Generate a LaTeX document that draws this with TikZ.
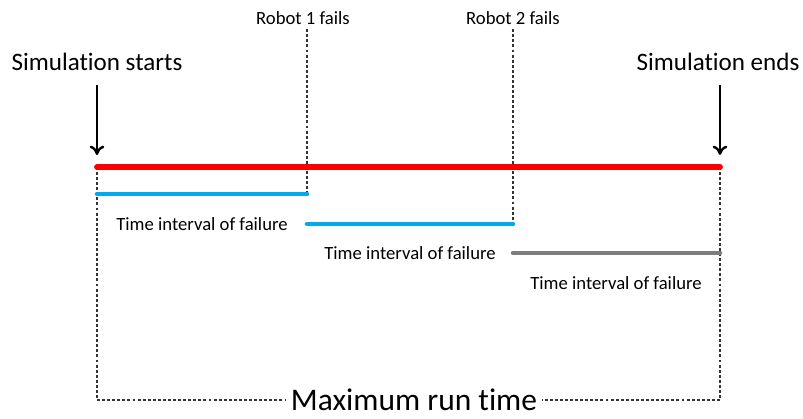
\documentclass[tikz,border=0pt]{standalone}
\usepackage{fontspec}
\setmainfont{Carlito}[Ligatures=NoCommon]
\usetikzlibrary{arrows.meta}

\definecolor{runred}{RGB}{250,0,0}
\definecolor{failblue}{RGB}{0,170,235}
\definecolor{failgray}{RGB}{125,125,125}

\begin{document}
\begin{tikzpicture}[x=0.75pt,y=-0.75pt,
    bar/.style={line width=3.4pt, line cap=round},
    guide/.style={draw=black!80, line width=1.8pt, dash pattern=on 2.2pt off 1.6pt},
    pointer/.style={line width=1.8pt, -{To[length=7pt,width=11pt]}},
    small/.style={font=\fontsize{14}{16}\selectfont},
    big/.style={font=\fontsize{18.8}{22}\selectfont}]
        \useasboundingbox (0,0) rectangle (803,418);

        \node[small] (r1) at (303,18) {Robot 1 fails};
        \node[small] (r2) at (513,18) {Robot 2 fails};
        \node[big] (ss) at (97,62) {Simulation starts};
        \node[big] (se) at (718,62) {Simulation ends};
        \node[font={\fontsize{23.6}{27}\selectfont}] (mrt) at (414,400) {Maximum run time};

        \coordinate (start) at (97,167);
        \coordinate (end) at (720,167);
        \coordinate (f1) at (307,194);
        \coordinate (f2) at (513,224);
        \coordinate (f3) at (720,253);

        % dashed guides
        \draw[guide] (f1 |- r1.south) -- (f1);
        \draw[guide] (f2 |- r2.south) -- (f2);
        \draw[guide] (start) |- (mrt.west);
        \draw[guide] (end) |- (mrt.east);

        \draw[pointer] ([yshift=-7pt]ss.south) -- ([yshift=9pt]start);
        \draw[pointer] ([yshift=-7pt]se.south -| end) -- ([yshift=9pt]end);

        % run and failure intervals
        \draw[bar, runred, line width=4.4pt] (start) -- (end);
        \draw[bar, failblue] (start |- f1) -- (f1);
        \draw[bar, failblue] (f1 |- f2) -- (f2);
        \draw[bar, failgray] (f2 |- f3) -- (f3);

        \node[small] (t1) at (202,224) {Time interval of failure};
        \node[small] (t2) at (410,253) {Time interval of failure};
        \node[small] (t3) at (616,283) {Time interval of failure};
    \end{tikzpicture}
\end{document}
